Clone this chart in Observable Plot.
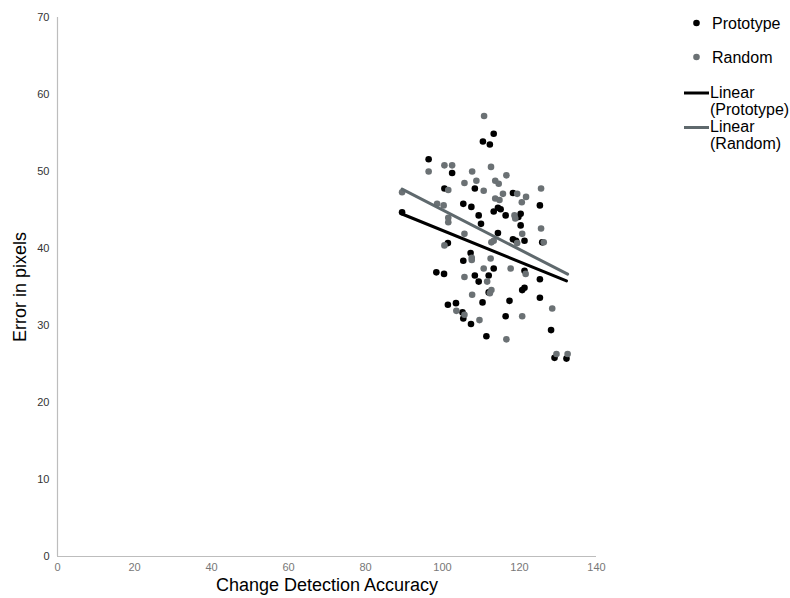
<!DOCTYPE html>
<html>
<head>
<meta charset="utf-8">
<script src="https://cdn.jsdelivr.net/npm/d3@7"></script>
<script src="https://cdn.jsdelivr.net/npm/@observablehq/plot@0.6"></script>
<style>
  html, body { margin: 0; padding: 0; background: #fff; }
  #chart { position: relative; width: 790px; height: 598px; font-family: "Liberation Sans", Arial, sans-serif; }
</style>
</head>
<body>
<div id="chart"></div>
<script>
// Tick values
const xTicks = [0, 20, 40, 60, 80, 100, 120, 140];
const yTicks = [0, 10, 20, 30, 40, 50, 60, 70];

// Prototype series (Change Detection Accuracy, Error in pixels)
const protoX = [110.5, 112.3, 113.3, 96.4, 102.5, 100.5, 108.4, 105.4, 107.5, 109.4, 89.5, 110.0,
  118.3, 125.3, 114.4, 115.1, 113.3, 116.4, 120.3, 119.7, 120.3, 114.4, 101.4, 107.3, 105.4,
  98.4, 100.4, 108.4, 112.0, 109.4, 112.0, 110.4, 101.4, 103.5, 105.2, 105.4, 107.4, 111.4,
  118.3, 119.1, 121.3, 113.3, 121.3, 125.3, 120.7, 121.3, 125.3, 117.4, 116.4, 128.2, 129.1, 132.2, 125.9];
const protoY = [53.9, 53.5, 54.9, 51.6, 49.8, 47.8, 47.8, 45.8, 45.4, 44.3, 44.7, 43.2,
  47.2, 45.6, 45.3, 45.1, 44.8, 44.3, 44.5, 44.1, 43.0, 42.0, 40.7, 39.4, 38.4,
  36.9, 36.7, 36.5, 36.5, 35.7, 34.3, 33.0, 32.7, 32.9, 31.7, 30.9, 30.2, 28.6,
  41.2, 41.0, 41.0, 37.4, 37.1, 36.0, 34.6, 34.9, 33.6, 33.2, 31.2, 29.4, 25.8, 25.7, 40.8];

// Random series
const randX = [110.8, 100.5, 102.5, 96.4, 112.6, 107.7, 108.8, 105.7, 101.5, 110.7, 89.5, 100.3,
  101.5, 101.5, 105.7, 116.6, 113.7, 114.6, 115.7, 119.4, 125.6, 121.7, 113.7, 114.8, 120.6,
  118.7, 118.9, 125.6, 120.7, 100.5, 107.6, 107.6, 112.5, 110.7, 105.7, 111.6, 107.7, 103.6,
  105.7, 109.6, 113.3, 112.7, 119.4, 126.3, 117.7, 121.6, 112.7, 112.3, 128.5, 120.7, 116.6,
  129.6, 132.5, 98.6];
const randY = [57.2, 50.8, 50.8, 50.0, 50.6, 50.0, 48.8, 48.5, 47.6, 47.5, 47.3, 45.6,
  44.0, 43.4, 41.9, 49.5, 48.8, 48.4, 47.1, 47.1, 47.8, 46.7, 46.5, 46.3, 46.0,
  44.3, 43.9, 42.6, 41.9, 40.4, 38.8, 38.5, 38.7, 37.4, 36.3, 35.7, 34.0, 31.9,
  31.4, 30.7, 41.0, 40.8, 40.7, 40.8, 37.4, 36.7, 34.6, 34.2, 32.2, 31.2, 28.2,
  26.3, 26.3, 45.8];

const seriesColors = ["#000000", "#6b7174"];
const lineColors = ["#000000", "#5f696d"];
const xLabel = "Change Detection Accuracy";
const yLabel = "Error in pixels";
const legendLabels = ["Prototype", "Random", ["Linear", "(Prototype)"], ["Linear", "(Random)"]];

const proto = protoX.map((x, i) => ({x, y: protoY[i]}));
const rand = randX.map((x, i) => ({x, y: randY[i]}));

const plot = Plot.plot({
  width: 790,
  height: 598,
  marginLeft: 57,
  marginRight: 194,
  marginTop: 17,
  marginBottom: 42,
  style: {fontFamily: "'Liberation Sans', Arial, sans-serif", fontSize: "11px", background: "#fff"},
  x: {domain: [0, 140]},
  y: {domain: [0, 70]},
  marks: [
    Plot.ruleY([0], {stroke: "#bdbdbd", strokeWidth: 1.2}),
    Plot.ruleX([0], {stroke: "#bdbdbd", strokeWidth: 1.2}),
    Plot.axisX({ticks: xTicks, tickSize: 0, tickPadding: 7, label: null, fill: "#777", fontSize: 11}),
    Plot.axisY({ticks: yTicks, tickSize: 0, tickPadding: 8, label: null, fill: "#333", fontSize: 11}),
    Plot.dot(proto, {x: "x", y: "y", r: 3.3, fill: seriesColors[0]}),
    Plot.dot(rand, {x: "x", y: "y", r: 3.3, fill: seriesColors[1]}),
    Plot.linearRegressionY(proto, {x: "x", y: "y", stroke: lineColors[0], strokeWidth: 3, ci: 0}),
    Plot.linearRegressionY(rand, {x: "x", y: "y", stroke: lineColors[1], strokeWidth: 3, ci: 0}),
    Plot.text([xLabel], {frameAnchor: "bottom", dy: 29, textAnchor: "middle", lineAnchor: "middle", fontSize: 18, fill: "#000"}),
    Plot.text([yLabel], {frameAnchor: "left", dx: -37, rotate: -90, textAnchor: "middle", lineAnchor: "middle", fontSize: 18, fill: "#000"})
  ]
});

document.getElementById("chart").appendChild(plot);

// Legend
const svg = d3.select(plot);
const lg = svg.append("g")
  .attr("font-family", "'Liberation Sans', Arial, sans-serif")
  .attr("font-size", 16)
  .attr("text-anchor", "start")
  .attr("fill", "#000");
lg.append("circle").attr("cx", 696.5).attr("cy", 23).attr("r", 3.3).attr("fill", seriesColors[0]);
lg.append("text").attr("x", 712).attr("y", 23).attr("dy", "0.35em").text(legendLabels[0]);
lg.append("circle").attr("cx", 696.5).attr("cy", 57).attr("r", 3.3).attr("fill", seriesColors[1]);
lg.append("text").attr("x", 712).attr("y", 57).attr("dy", "0.35em").text(legendLabels[1]);
lg.append("line").attr("x1", 684).attr("x2", 709).attr("y1", 93).attr("y2", 93)
  .attr("stroke", lineColors[0]).attr("stroke-width", 3);
lg.append("text").attr("x", 710).attr("y", 92).attr("dy", "0.35em").text(legendLabels[2][0]);
lg.append("text").attr("x", 710).attr("y", 109).attr("dy", "0.35em").text(legendLabels[2][1]);
lg.append("line").attr("x1", 684).attr("x2", 709).attr("y1", 127.5).attr("y2", 127.5)
  .attr("stroke", lineColors[1]).attr("stroke-width", 3);
lg.append("text").attr("x", 710).attr("y", 126).attr("dy", "0.35em").text(legendLabels[3][0]);
lg.append("text").attr("x", 710).attr("y", 143).attr("dy", "0.35em").text(legendLabels[3][1]);
</script>
</body>
</html>
